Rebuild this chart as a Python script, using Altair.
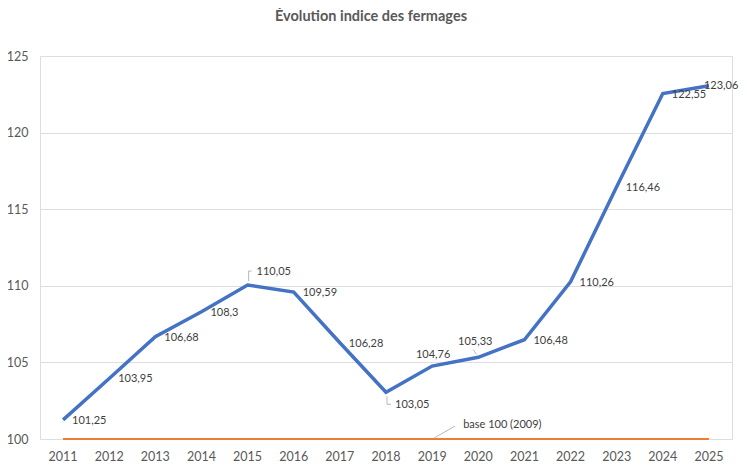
import altair as alt
import pandas as pd

years = [2011, 2012, 2013, 2014, 2015, 2016, 2017, 2018, 2019, 2020, 2021, 2022, 2023, 2024, 2025]
indice = [101.25, 103.95, 106.68, 108.3, 110.05, 109.59, 106.28, 103.05, 104.76, 105.33, 106.48, 110.26, 116.46, 122.55, 123.06]
base = [100] * len(years)
y_ticks = [100, 105, 110, 115, 120, 125]
title_text = "Évolution indice des fermages"
base_label = "base 100 (2009)"

df = pd.DataFrame({
    "year": [str(y) for y in years],
    "indice": indice,
    "base": base,
    "label": [("%g" % v).replace(".", ",") for v in indice],
})

FONT = "Lato"
xenc = alt.X("year:O", title=None, sort=None,
             axis=alt.Axis(labelAngle=0, labelFont=FONT, labelFontSize=12.5,
                           labelColor="#595959", labelPadding=11, ticks=False,
                           domain=False, grid=False))
yscale = alt.Scale(domain=[100, 125], nice=False, zero=False)
X = alt.X("year:O", sort=None)

base_chart = alt.Chart(df)

orange = base_chart.mark_line(color="#ED7D31", strokeWidth=2).encode(
    x=xenc,
    y=alt.Y("base:Q", scale=yscale, title=None,
            axis=alt.Axis(values=y_ticks, labelFont=FONT, labelFontSize=12.5,
                          labelColor="#595959", labelPadding=12, ticks=False,
                          domain=False, gridColor="#DEDEDE", gridWidth=1)),
)

blue = base_chart.mark_line(color="#4472C4", strokeWidth=3.5).encode(
    x=X, y=alt.Y("indice:Q", scale=yscale),
)

lead = dict(color="#A6A6A6", strokeWidth=0.8)


def leader(year, field, xo, yo, x2o, y2o):
    return base_chart.transform_filter(alt.datum.year == year).mark_rule(
        xOffset=xo, yOffset=yo, x2Offset=x2o, y2Offset=y2o, **lead).encode(
        x=X, y=alt.Y(field + ":Q", scale=yscale), x2=alt.X2("year"), y2=alt.Y2(field))


leaders = [
    leader("2015", "indice", 1, -4, 1, -14),
    leader("2015", "indice", 1, -14, 4, -14),
    leader("2018", "indice", 1, 4, 1, 12),
    leader("2018", "indice", 1, 12, 5, 12),
    leader("2020", "indice", -2, -3, -5, -8),
    leader("2019", "base", 2, -1, 23, -13),
]

txt_style = dict(font=FONT, fontSize=11, color="#404040")


def label(filter_pred, align, dx, dy, field="indice", text="label:N"):
    return base_chart.transform_filter(filter_pred).mark_text(
        align=align, baseline="middle", dx=dx, dy=dy, **txt_style).encode(
        x=X, y=alt.Y(field + ":Q", scale=yscale), text=text)


right_years = ["2011", "2012", "2013", "2014", "2016", "2017", "2021", "2022", "2023", "2024"]
labels = [
    label(alt.FieldOneOfPredicate(field="year", oneOf=right_years), "left", 9, 1),
    label(alt.datum.year == "2015", "left", 9, -13),
    label(alt.datum.year == "2018", "left", 9, 13),
    label(alt.datum.year == "2019", "center", 1, -11),
    label(alt.datum.year == "2020", "center", -3, -15),
    label(alt.datum.year == "2025", "left", -5, 0),
    label(alt.datum.year == "2019", "left", 31, -14, field="base", text=alt.value(base_label)),
]

chart = alt.layer(orange, blue, *leaders, *labels).properties(
    width=692, height=383,
    title=alt.TitleParams(title_text, anchor="middle", dx=-15, offset=26,
                          font=FONT, fontSize=14.5, fontWeight="bold", color="#595959"),
    autosize=alt.AutoSizeParams(type="none"),
    padding={"left": 32, "top": 48, "right": 7, "bottom": 26},
).configure_view(stroke=None).configure(background="white")

chart.save("out.html", embed_options={"renderer": "svg", "actions": False})
